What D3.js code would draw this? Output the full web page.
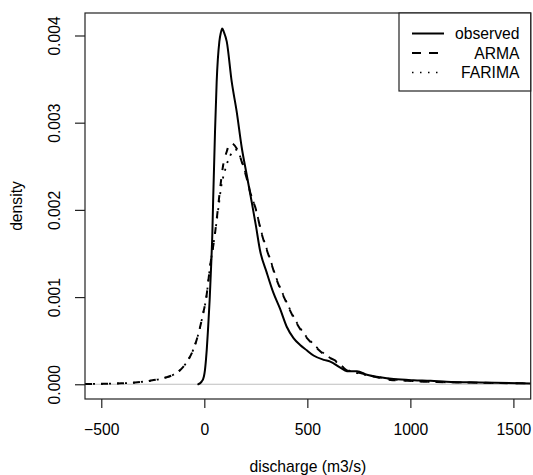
<!DOCTYPE html>
<html>
<head>
<meta charset="utf-8">
<script src="https://cdn.jsdelivr.net/npm/d3@7"></script>
<style>
html, body { margin: 0; padding: 0; background: #fff; }
svg { display: block; }
text { font-family: "Liberation Sans", Arial, Helvetica, sans-serif; fill: #000; }
</style>
</head>
<body>
<svg id="chart" width="533" height="475"></svg>
<script>
// ---- data ----
const seriesNames = ["observed", "ARMA", "FARIMA"];

const obsX = [-29, -13, -2, 3, 8, 12, 18, 26, 33, 39, 43, 52, 60, 73, 80, 87, 95, 109, 133, 157, 182, 206, 230, 251, 270, 303, 335, 367, 400, 433, 465, 497, 530, 580, 611, 660, 692, 741, 789, 854, 919, 1016, 1098, 1175, 1337, 1584];
const obsY = [0, 0.00003, 0.00009, 0.00016, 0.00028, 0.0004, 0.00063, 0.00097, 0.00135, 0.00173, 0.00212, 0.0029, 0.00347, 0.00393, 0.00403, 0.00408, 0.00404, 0.00393, 0.00347, 0.00313, 0.00271, 0.0024, 0.00209, 0.00181, 0.00154, 0.00128, 0.00105, 0.00087, 0.00066, 0.00053, 0.00045, 0.00039, 0.00033, 0.00028, 0.00026, 0.00019, 0.00015, 0.00015, 0.00011, 0.00008, 0.00006, 0.000046, 0.00004, 0.00003, 0.00002, 0.00001];

const armaX = [-579, -500, -420, -336, -264, -199, -150, -110, -78, -53, -37, -21, -5, 8, 28, 52, 70, 81, 92, 109, 125, 165, 182, 206, 230, 246, 278, 319, 351, 392, 441, 481, 530, 588, 644, 692, 757, 822, 903, 984, 1064, 1256, 1584];
const armaY = [0.000003, 0.000005, 0.00001, 0.00002, 0.00004, 0.00007, 0.00011, 0.00018, 0.00028, 0.0004, 0.00051, 0.00065, 0.00082, 0.00097, 0.00135, 0.00173, 0.0021, 0.00233, 0.00252, 0.00267, 0.00277, 0.00267, 0.00255, 0.00236, 0.00214, 0.00204, 0.00173, 0.00143, 0.0012, 0.00097, 0.00073, 0.00058, 0.00045, 0.00033, 0.00026, 0.00016, 0.00013, 0.00009, 0.00005, 0.00004, 0.00003, 0.00002, 0.00001];

const farimaX = [-579, -500, -420, -336, -264, -199, -150, -110, -78, -53, -37, -21, -5, 8, 28, 52, 70, 81, 100, 125, 154, 182, 206, 230, 246, 278, 319, 351, 392, 441, 481, 530, 588, 644, 692, 757, 822, 903, 984, 1064, 1256, 1584];
const farimaY = [0.000003, 0.000005, 0.00001, 0.00002, 0.00004, 0.00007, 0.00011, 0.00018, 0.00028, 0.0004, 0.00051, 0.00065, 0.00082, 0.00097, 0.00135, 0.00173, 0.00205, 0.00225, 0.00245, 0.00262, 0.00269, 0.00256, 0.00237, 0.00215, 0.00204, 0.00174, 0.00144, 0.00121, 0.00098, 0.00074, 0.00059, 0.00046, 0.00034, 0.00025, 0.00017, 0.00012, 0.00009, 0.00006, 0.00004, 0.00003, 0.00002, 0.00001];

const xTicks = [-500, 0, 500, 1000, 1500];
const yTicks = [0, 0.001, 0.002, 0.003, 0.004];
const yTickLabels = ["0.000", "0.001", "0.002", "0.003", "0.004"];
const xTitle = "discharge (m3/s)";
const yTitle = "density";

// ---- layout ----
const FS = 15.7;
const box = { left: 85, top: 13, right: 530.7, bottom: 399 };
const svg = d3.select("#chart");

const x = d3.scaleLinear().domain([-579, 1584]).range([box.left, box.right]);
const y = d3.scaleLinear().domain([-0.000169, 0.004258]).range([box.bottom, box.top]);

svg.append("defs").append("clipPath").attr("id", "clip")
  .append("rect").attr("x", box.left).attr("y", box.top)
  .attr("width", box.right - box.left).attr("height", box.bottom - box.top);

// zero reference line
svg.append("line")
  .attr("x1", box.left).attr("x2", box.right)
  .attr("y1", y(0)).attr("y2", y(0))
  .attr("stroke", "#bebebe").attr("stroke-width", 1);

const line = d3.line().x(d => x(d[0])).y(d => y(d[1])).curve(d3.curveMonotoneX);
const zip = (a, b) => a.map((v, i) => [v, b[i]]);

const series = [
  { name: seriesNames[0], data: zip(obsX, obsY), dash: null, cap: "round", w: 2 },
  { name: seriesNames[1], data: zip(armaX, armaY), dash: "7,9", cap: "butt", w: 2 },
  { name: seriesNames[2], data: zip(farimaX, farimaY), dash: "2,6", cap: "butt", w: 1.8 }
];

const g = svg.append("g").attr("clip-path", "url(#clip)");
series.slice().reverse().forEach(s => {
  g.append("path")
    .attr("d", line(s.data))
    .attr("fill", "none")
    .attr("stroke", "#000")
    .attr("stroke-width", s.w)
    .attr("stroke-linecap", s.cap)
    .attr("stroke-linejoin", "round")
    .attr("stroke-dasharray", s.dash);
});

// plot box
svg.append("rect")
  .attr("x", box.left).attr("y", box.top)
  .attr("width", box.right - box.left).attr("height", box.bottom - box.top)
  .attr("fill", "none").attr("stroke", "#222").attr("stroke-width", 1.2);

// x axis
const xAxis = d3.axisBottom(x).tickValues(xTicks).tickSize(9).tickPadding(0).tickFormat(d3.format("d"));
const gx = svg.append("g").attr("transform", `translate(0,${box.bottom})`).call(xAxis);
gx.select(".domain").remove();
gx.selectAll(".tick line").attr("stroke", "#222").attr("stroke-width", 1.2);
gx.selectAll(".tick text").attr("font-size", FS).attr("dy", null).attr("y", 35.5)
  .attr("font-family", "Liberation Sans, Arial, sans-serif");

// y axis
const yAxis = d3.axisLeft(y).tickValues(yTicks).tickSize(10).tickFormat((d, i) => yTickLabels[i]);
const gy = svg.append("g").attr("transform", `translate(${box.left},0)`).call(yAxis);
gy.select(".domain").remove();
gy.selectAll(".tick line").attr("stroke", "#222").attr("stroke-width", 1.2);
gy.selectAll(".tick text")
  .attr("font-size", FS)
  .attr("font-family", "Liberation Sans, Arial, sans-serif")
  .attr("x", null).attr("dy", null)
  .attr("text-anchor", "middle")
  .attr("transform", "translate(-25,0) rotate(-90)");

// axis titles
svg.append("text")
  .attr("x", (box.left + box.right) / 2).attr("y", 472)
  .attr("text-anchor", "middle").attr("font-size", FS)
  .text(xTitle);
svg.append("text")
  .attr("transform", `translate(22,${(box.top + box.bottom) / 2}) rotate(-90)`)
  .attr("text-anchor", "middle").attr("font-size", FS)
  .text(yTitle);

// legend
const lg = { left: 399, top: 13, right: 530.7, bottom: 91 };
svg.append("rect")
  .attr("x", lg.left).attr("y", lg.top)
  .attr("width", lg.right - lg.left).attr("height", lg.bottom - lg.top)
  .attr("fill", "#fff").attr("stroke", "#222").attr("stroke-width", 1.2);
const legY = [33.5, 53, 72.5];
series.forEach((s, i) => {
  svg.append("line")
    .attr("x1", 412).attr("x2", 444)
    .attr("y1", legY[i]).attr("y2", legY[i])
    .attr("stroke", "#000")
    .attr("stroke-width", i === 2 ? 1.6 : 2)
    .attr("stroke-dasharray", i === 0 ? null : (i === 1 ? "9,8" : "1.5,6.5"));
  svg.append("text")
    .attr("x", 519.5).attr("y", legY[i] + 5.6)
    .attr("text-anchor", "end").attr("font-size", FS)
    .text(s.name);
});
</script>
</body>
</html>
